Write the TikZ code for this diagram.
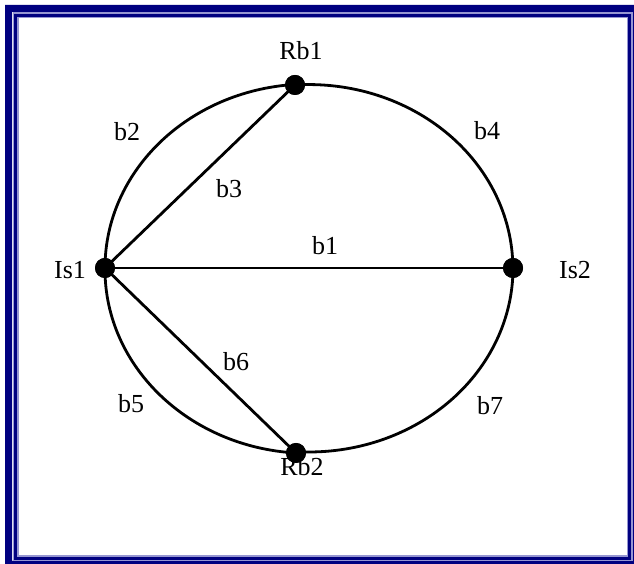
\documentclass[tikz,border=0pt]{standalone}
\usepackage{fontspec}
\setmainfont{Liberation Serif}
\usetikzlibrary{positioning}
\definecolor{framenavy}{RGB}{0,0,128}
\definecolor{framelight}{RGB}{150,150,210}

\begin{document}
\begin{tikzpicture}[x=1pt, y=1pt,
  edge/.style={line width=2.8pt},
  dot/.style={circle, fill=black, inner sep=0pt, minimum size=20pt},
  lbl/.style={inner sep=0pt, font=\fontsize{26}{29}\selectfont}]
\useasboundingbox (0,0) rectangle (634,564);
% frame
\fill[framenavy, even odd rule] (5,0) rectangle (634,559) (12,3) rectangle (632,552);
\draw[framelight, line width=6pt] (15.5,5.5) rectangle (629.5,548.5);
\draw[framenavy, line width=3pt] (15.5,5.5) rectangle (629.5,548.5);
% names
\node[lbl] (tIs1) at (70,294) {Is1};
\node[lbl] (tIs2) at (575,294) {Is2};
\node[lbl] (tRb1) at (301,513) {Rb1};
\node[lbl] (tRb2) at (302,97) {Rb2};
\node[lbl] (tb1) at (325,318) {b1};
\node[lbl] (tb2) at (127,432) {b2};
\node[lbl] (tb3) at (229,375) {b3};
\node[lbl] (tb4) at (487,433) {b4};
\node[lbl] (tb5) at (131,160) {b5};
\node[lbl] (tb6) at (236,202) {b6};
\node[lbl] (tb7) at (490,158) {b7};
% vertices
\node[dot] (Is1) at (105,296) {};
\node[dot] (Is2) at (513,296) {};
\node[dot] (Rb1) at (295,479) {};
\node[dot] (Rb2) at (296,111) {};
% branches
\draw[edge] (Is1.center) arc[start angle=180, end angle=93.9, x radius=204, y radius=184];
\draw[edge] (Rb1.center) arc[start angle=93.9, end angle=0, x radius=204, y radius=184];
\draw[edge] (Is2.center) arc[start angle=0, end angle=-93.65, x radius=204, y radius=184];
\draw[edge] (Rb2.center) arc[start angle=266.35, end angle=180, x radius=204, y radius=184];
\draw[edge] (Is1.center) -- (Is2.center);
\draw[edge] (Is1.center) -- (Rb1.center);
\draw[edge] (Is1.center) -- (Rb2.center);
\fill (Is1) circle (10); \fill (Is2) circle (10);
\fill (Rb1) circle (10); \fill (Rb2) circle (10);
\end{tikzpicture}
\end{document}
